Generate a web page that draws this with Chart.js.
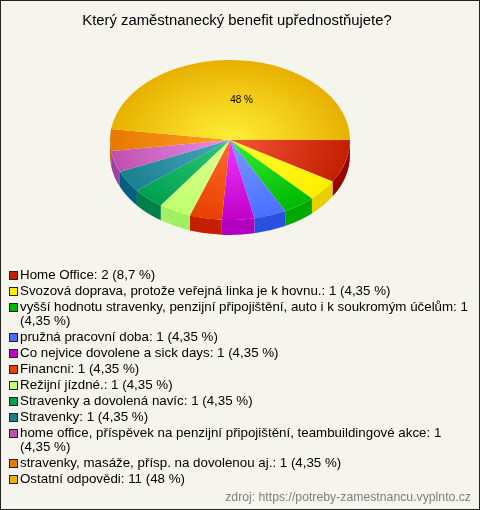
<!DOCTYPE html>
<html>
<head>
<meta charset="utf-8">
<title>Benefit</title>
<script src="https://cdn.jsdelivr.net/npm/chart.js@4"></script>
<style>
html, body { margin: 0; padding: 0; background: #f5f4ed; }
#wrap { position: relative; width: 480px; height: 510px; box-sizing: border-box; border: 1px solid #222; overflow: hidden; font-family: "Liberation Sans", Arial, sans-serif; color: #000; }
#pie { position: absolute; left: -1px; top: -1px; }
#title { position: absolute; left: -1px; top: 11px; width: 474px; text-align: center; font-size: 14.85px; line-height: 16px; }
#legend { position: absolute; left: 8px; top: 267px; width: 464px; font-size: 13.33px; line-height: 14.5px; }
.row { position: relative; padding-left: 11px; margin-bottom: 1.4px; }
.box { position: absolute; left: 0; top: 3px; width: 7px; height: 7px; border: 1px solid #222; }
#source { position: absolute; right: 8px; top: 489px; font-size: 12.25px; line-height: 14px; color: #808080; }
</style>
</head>
<body>
<div id="wrap">
  <canvas id="pie" width="480" height="510"></canvas>
  <div id="title"></div>
  <div id="legend"></div>
  <div id="source"></div>
</div>
<script>
const chartTitle = 'Který zaměstnanecký benefit upřednostňujete?';
const sourceText = 'zdroj: https://potreby-zamestnancu.vyplnto.cz';

const labels = [
  'Home Office',
  'Svozová doprava, protože veřejná linka je k hovnu.',
  'vyšší hodnotu stravenky, penzijní připojištění, auto i k soukromým účelům',
  'pružná pracovní doba',
  'Co nejvice dovolene a sick days',
  'Financni',
  'Režijní jízdné.',
  'Stravenky a dovolená navíc',
  'Stravenky',
  'home office, příspěvek na penzijní připojištění, teambuildingové akce',
  'stravenky, masáže, přísp. na dovolenou aj.',
  'Ostatní odpovědi'
];
const counts = [2, 1, 1, 1, 1, 1, 1, 1, 1, 1, 1, 11];
const percents = ['8,7', '4,35', '4,35', '4,35', '4,35', '4,35', '4,35', '4,35', '4,35', '4,35', '4,35', '48'];

const legendColors = ['#c41f00', '#ffee00', '#00b800', '#4a6fff', '#c000c8', '#e84000', '#c0ff70', '#00a050', '#1a8090', '#c050b0', '#e87800', '#e8b000'];
const innerColors = ['#f4553a', '#ffff30', '#30f030', '#7a9cff', '#f038ff', '#ff6a30', '#e0ff90', '#30c878', '#48a8c0', '#e890e8', '#ffa020', '#fff038'];
const sideColors = ['#990000', '#e8d000', '#00a800', '#2a50e0', '#b000c0', '#c42000', '#a0f060', '#008048', '#006080', '#a040a0', '#c06000', '#c09000'];

const TILT = 2 / 3;
const DEPTH = 22.5; // in unsquashed pixels, gives 15px on screen

document.getElementById('title').textContent = chartTitle;
document.getElementById('source').textContent = sourceText;
document.getElementById('legend').innerHTML = labels.map((l, i) =>
  `<div class="row"><span class="box" style="background:${legendColors[i]}"></span>${l}: ${counts[i]} (${percents[i]}&nbsp;%)</div>`
).join('');

const pie3d = {
  id: 'pie3d',
  beforeDatasetsDraw(chart) {
    const ctx = chart.ctx;
    const arcs = chart.getDatasetMeta(0).data;
    const { x, y } = arcs[0];
    ctx.save();
    ctx.translate(x, y);
    ctx.scale(1, TILT);
    ctx.translate(-x, -y);
    // side wall, only the front half can be seen
    arcs.forEach((arc, i) => {
      const from = ((arc.startAngle % (2 * Math.PI)) + 2 * Math.PI) % (2 * Math.PI);
      const to = Math.min(from + (arc.endAngle - arc.startAngle), Math.PI);
      if (from >= Math.PI) return;
      ctx.beginPath();
      ctx.arc(x, y + DEPTH, arc.outerRadius, from, to);
      ctx.arc(x, y, arc.outerRadius, to, from, true);
      ctx.closePath();
      ctx.fillStyle = sideColors[i];
      ctx.fill();
    });
  },
  afterDatasetsDraw(chart) {
    const ctx = chart.ctx;
    ctx.restore();
    const last = chart.getDatasetMeta(0).data[labels.length - 1];
    const mid = (last.startAngle + last.endAngle) / 2;
    ctx.save();
    ctx.font = '10px "Liberation Sans", Arial, sans-serif';
    ctx.fillStyle = '#000';
    ctx.textAlign = 'center';
    ctx.textBaseline = 'middle';
    ctx.fillText(percents[labels.length - 1] + ' %', last.x + Math.cos(mid) * 60 + 7.5, last.y + Math.sin(mid) * 60 * TILT);
    ctx.restore();
  }
};

new Chart(document.getElementById('pie').getContext('2d'), {
  type: 'pie',
  data: {
    labels: labels,
    datasets: [{
      data: counts,
      clip: false,
      borderWidth: 0,
      backgroundColor: (c) => {
        const area = c.chart.chartArea;
        if (!area) return legendColors[c.dataIndex];
        const cx = (area.left + area.right) / 2, cy = (area.top + area.bottom) / 2;
        const g = c.chart.ctx.createRadialGradient(cx, cy, 0, cx, cy, 120);
        g.addColorStop(0, innerColors[c.dataIndex]);
        g.addColorStop(1, legendColors[c.dataIndex]);
        return g;
      }
    }]
  },
  options: {
    responsive: false,
    animation: false,
    events: [],
    rotation: 90,
    layout: { padding: { left: 110, right: 130, top: 20, bottom: 250 } },
    plugins: { legend: { display: false }, tooltip: { enabled: false } }
  },
  plugins: [pie3d]
});
</script>
</body>
</html>
